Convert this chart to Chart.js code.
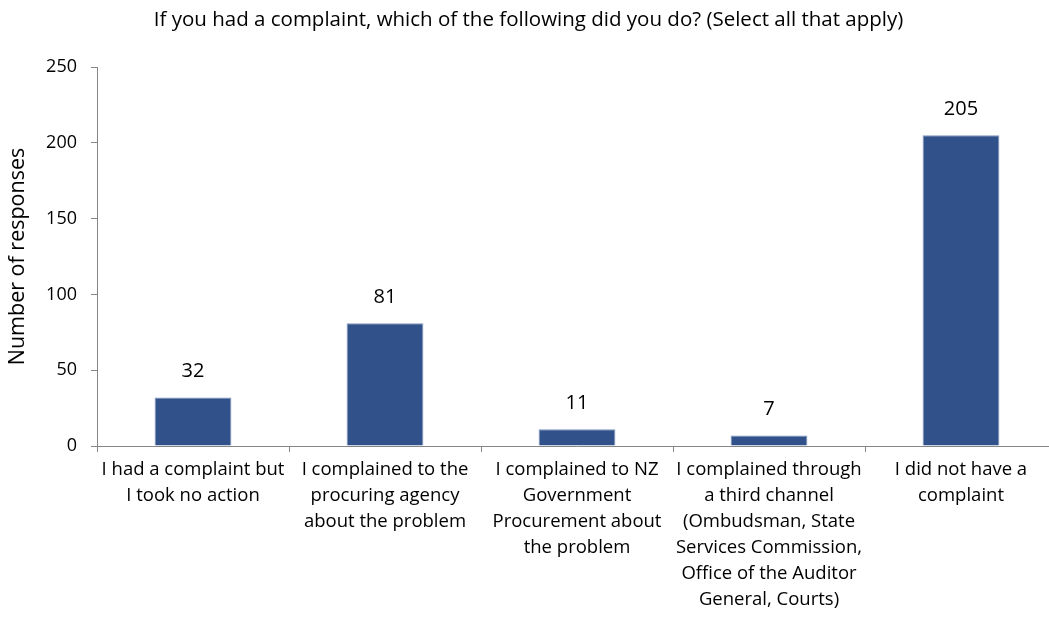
<!DOCTYPE html>
<html>
<head>
<meta charset="utf-8">
<script src="https://cdn.jsdelivr.net/npm/chart.js@4/dist/chart.umd.min.js"></script>
<style>
  html, body { margin: 0; padding: 0; background: #fff; overflow: hidden; }
  #wrap { width: 1057px; height: 617px; position: relative; }
</style>
</head>
<body>
<div id="wrap"><canvas id="c"></canvas></div>
<script>
// Survey responses: what respondents did when they had a complaint
const categories = [
  ["I had a complaint but", "I took no action"],
  ["I complained to the", "procuring agency", "about the problem"],
  ["I complained to NZ", "Government", "Procurement about", "the problem"],
  ["I complained through", "a third channel", "(Ombudsman, State", "Services Commission,", "Office of the Auditor", "General, Courts)"],
  ["I did not have a", "complaint"]
];
const responses = [32, 81, 11, 7, 205];
const yTicks = [0, 50, 100, 150, 200, 250];

const FONT = "'Open Sans', sans-serif";
const AXIS_GREY = '#868686';

// Writes each bar's value above it
const valueLabels = {
  id: 'valueLabels',
  afterDatasetsDraw(chart) {
    const ctx = chart.ctx;
    const meta = chart.getDatasetMeta(0);
    ctx.save();
    ctx.font = '20px ' + FONT;
    ctx.fillStyle = '#000';
    ctx.textAlign = 'center';
    ctx.textBaseline = 'middle';
    meta.data.forEach((bar, i) => {
      ctx.fillText(String(responses[i]), bar.x, bar.y - 26);
    });
    ctx.restore();
  }
};

new Chart(document.getElementById('c'), {
  type: 'bar',
  data: {
    labels: categories,
    datasets: [{
      data: responses,
      backgroundColor: '#31518A',
      borderColor: '#8096BF',
      borderWidth: 1,
      barPercentage: 0.4,
      categoryPercentage: 1.0
    }]
  },
  options: {
    responsive: true,
    maintainAspectRatio: false,
    animation: false,
    layout: { padding: { left: 0, right: 0, top: 0, bottom: 0 } },
    plugins: {
      legend: { display: false },
      tooltip: { enabled: false },
      title: {
        display: true,
        text: 'If you had a complaint, which of the following did you do? (Select all that apply)',
        color: '#000',
        font: { family: FONT, size: 20.5, weight: 'normal', lineHeight: 1.2 },
        padding: { top: 8, bottom: 34.4 }
      }
    },
    scales: {
      x: {
        grid: {
          offset: true,
          drawOnChartArea: false,
          drawTicks: true,
          tickLength: 6,
          color: AXIS_GREY
        },
        border: { color: AXIS_GREY, width: 1 },
        ticks: {
          color: '#000',
          padding: 5,
          maxRotation: 0,
          autoSkip: false,
          font: { family: FONT, size: 18.5, lineHeight: 1.4 }
        },
        afterFit(scale) { scale.height = 171; }
      },
      y: {
        min: 0,
        max: 250,
        afterBuildTicks(scale) { scale.ticks = yTicks.map(v => ({ value: v })); },
        grid: {
          drawOnChartArea: false,
          drawTicks: true,
          tickLength: 6,
          color: AXIS_GREY
        },
        border: { color: AXIS_GREY, width: 1 },
        ticks: {
          color: '#000',
          padding: 14,
          font: { family: FONT, size: 18 }
        },
        title: {
          display: true,
          text: 'Number of responses',
          color: '#000',
          font: { family: FONT, size: 21.5 },
          padding: { top: 5, bottom: 0 }
        },
        afterFit(scale) { scale.width = 97; }
      }
    }
  },
  plugins: [valueLabels]
});
</script>
</body>
</html>
